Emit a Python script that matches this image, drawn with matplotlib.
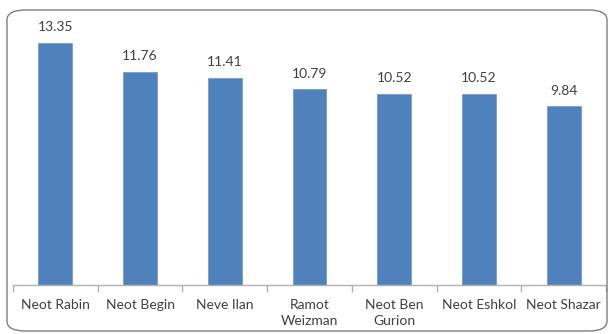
import matplotlib
matplotlib.use("Agg")
import matplotlib.pyplot as plt
from matplotlib.patches import FancyBboxPatch
import numpy as np

categories = ["Neot Rabin", "Neot Begin", "Neve Ilan", "Ramot\nWeizman",
              "Neot Ben\nGurion", "Neot Eshkol", "Neot Shazar"]
values = [13.35, 11.76, 11.41, 10.79, 10.52, 10.52, 9.84]
value_labels = ["13.35", "11.76", "11.41", "10.79", "10.52", "10.52", "9.84"]

W, H = 609, 334
fig = plt.figure(figsize=(W / 100, H / 100), dpi=100)
plt.rcParams["font.family"] = ["Lato", "DejaVu Sans"]
text_color = "#404040"

# rounded chart frame
frame = FancyBboxPatch((7 / W, 1 - 331 / H), (607 - 7) / W, (331 - 10) / H,
                       boxstyle="round,pad=0,rounding_size=0.03",
                       transform=fig.transFigure, fill=False,
                       edgecolor="#7f7f7f", linewidth=1.0, clip_on=False)
fig.patches.append(frame)

ax = fig.add_axes([13 / W, 1 - 285 / H, (606 - 13) / W, (285 - 31) / H])
x = np.arange(len(categories))
ax.bar(x, values, width=0.4, color="#4F81BD", edgecolor="#6f95c8", linewidth=0.5)
for xi, v, lab in zip(x, values, value_labels):
    ax.annotate(lab, (xi, v), xytext=(0, 7), textcoords="offset points",
                ha="center", va="bottom", fontsize=10, color=text_color)

ax.set_xlim(-0.5, len(categories) - 0.5)
ax.set_ylim(0, 14)
ax.set_yticks([])
for s in ["top", "right", "left"]:
    ax.spines[s].set_visible(False)
ax.spines["bottom"].set_color("#b0b0b0")
ax.spines["bottom"].set_linewidth(1.0)

ax.set_xticks(x)
ax.set_xticklabels(categories, fontsize=10, color=text_color, linespacing=1.45)
ax.tick_params(axis="x", which="major", length=0, pad=10)
ax.set_xticks(np.arange(len(categories) + 1) - 0.5, minor=True)
ax.tick_params(axis="x", which="minor", length=5, color="#b0b0b0", width=1.0)

fig.savefig("out.png", dpi=100)
